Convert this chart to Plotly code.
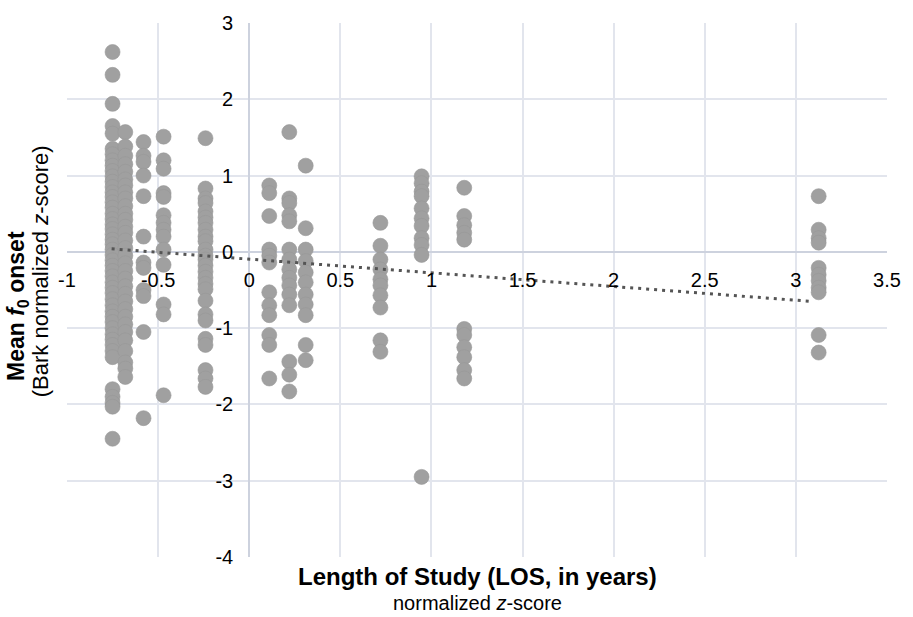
import plotly.graph_objects as go

# x positions (normalized LOS z-score) of each column of points
col_x = [-0.75, -0.68, -0.58, -0.47, -0.24, 0.11, 0.22, 0.31, 0.72, 0.946, 1.18, 3.125]

# mean f0 onset values for each column
col_a = [2.62, 2.32, 1.94, 1.65, 1.55, 1.35, 1.28, 1.2, 1.13, 1.06, 0.99, 0.92, 0.85, 0.78,
         0.72, 0.65, 0.58, 0.5, 0.43, 0.36, 0.3, 0.23, 0.16, 0.1, 0.03, -0.04, -0.11, -0.18,
         -0.25, -0.32, -0.4, -0.47, -0.54, -0.62, -0.7, -0.78, -0.85, -0.92, -1.0, -1.08,
         -1.15, -1.22, -1.3, -1.38, -1.8, -1.9, -1.98, -2.03, -2.45]
col_b = [1.57, 1.38, 1.26, 1.15, 1.05, 0.95, 0.87, 0.78, 0.7, 0.6, 0.5, 0.42, 0.33, 0.25,
         0.15, 0.05, -0.05, -0.15, -0.25, -0.35, -0.45, -0.55, -0.65, -0.75, -0.85, -0.95,
         -1.05, -1.16, -1.3, -1.45, -1.53, -1.64]
col_c = [1.44, 1.26, 1.18, 1.0, 0.73, 0.2, -0.14, -0.21, -0.5, -0.58, -1.05, -2.18]
col_d = [1.51, 1.2, 1.09, 0.77, 0.72, 0.48, 0.38, 0.29, 0.2, 0.03, -0.17, -0.69, -0.82, -1.88]
col_e = [1.49, 0.83, 0.7, 0.64, 0.53, 0.45, 0.38, 0.29, 0.2, 0.14, 0.03, -0.05, -0.1, -0.18,
         -0.26, -0.34, -0.42, -0.49, -0.64, -0.82, -0.9, -1.14, -1.22, -1.55, -1.66, -1.77]
col_f = [0.87, 0.77, 0.47, 0.03, -0.05, -0.14, -0.53, -0.7, -0.83, -1.09, -1.22, -1.66]
col_g = [1.57, 0.7, 0.64, 0.48, 0.4, 0.03, -0.1, -0.23, -0.34, -0.44, -0.56, -0.7, -1.44,
         -1.61, -1.83]
col_h = [1.13, 0.31, 0.03, -0.12, -0.27, -0.4, -0.56, -0.69, -0.83, -1.22, -1.42]
col_i = [0.38, 0.08, -0.1, -0.23, -0.36, -0.44, -0.57, -0.73, -1.16, -1.31]
col_j = [0.99, 0.9, 0.79, 0.73, 0.57, 0.44, 0.34, 0.18, 0.09, -0.04, -2.95]
col_k = [0.84, 0.47, 0.35, 0.25, 0.16, -1.01, -1.09, -1.25, -1.38, -1.55, -1.66]
col_l = [0.73, 0.29, 0.18, 0.12, -0.21, -0.3, -0.38, -0.47, -0.53, -1.09, -1.32]

col_values = [col_a, col_b, col_c, col_d, col_e, col_f, col_g, col_h, col_i, col_j, col_k, col_l]

# linear trend line endpoints
trend_x = [-0.755, 3.09]
trend_y = [0.04, -0.65]

x_ticks = [-1, -0.5, 0, 0.5, 1, 1.5, 2, 2.5, 3, 3.5]
y_ticks = [-4, -3, -2, -1, 0, 1, 2, 3]

xs, ys = [], []
for cx, vals in zip(col_x, col_values):
    xs.extend([cx] * len(vals))
    ys.extend(vals)

FONT = "Liberation Sans, Arial, Helvetica, sans-serif"

fig = go.Figure()
fig.add_trace(go.Scatter(
    x=xs, y=ys, mode="markers",
    marker=dict(size=15, color="#a0a0a0", line=dict(color="#979797", width=0.6)),
    showlegend=False, hoverinfo="skip",
))
fig.add_trace(go.Scatter(
    x=trend_x, y=trend_y, mode="lines",
    line=dict(color="#555555", width=3, dash="3px,5px"),
    showlegend=False, hoverinfo="skip",
))

grid = "#e2e5ed"
zero = "#cdd2de"

fig.update_layout(
    width=913, height=617,
    margin=dict(l=67, r=17, t=18, b=60),
    paper_bgcolor="white", plot_bgcolor="white",
    font=dict(family=FONT, color="black", size=20),
    xaxis=dict(
        range=[-1, 3.5], tickvals=x_ticks, ticktext=[f"{v:g}" for v in x_ticks],
        showgrid=True, gridcolor=grid, gridwidth=1.5,
        zeroline=True, zerolinecolor=zero, zerolinewidth=1.5,
        showline=False, ticks="", anchor="free", position=4 / 7,
        tickfont=dict(size=20, family=FONT, color="black"),
        ticklabelstandoff=14,
    ),
    yaxis=dict(
        range=[-4, 3], tickvals=y_ticks, ticktext=[f"{v:g}" for v in y_ticks],
        showgrid=True, gridcolor=grid, gridwidth=1.5,
        zeroline=True, zerolinecolor=zero, zerolinewidth=1.5,
        showline=False, ticks="", anchor="free", position=1 / 4.5,
        tickfont=dict(size=20, family=FONT, color="black"),
        ticklabelstandoff=16,
    ),
    annotations=[
        dict(text="<b>Length of Study (LOS, in years)</b>", x=0.5, y=-0.037,
             xref="paper", yref="paper", xanchor="center", yanchor="middle",
             showarrow=False, font=dict(size=24, family=FONT, color="black")),
        dict(text="normalized <i>z</i>-score", x=0.5, y=-0.086,
             xref="paper", yref="paper", xanchor="center", yanchor="middle",
             showarrow=False, font=dict(size=20, family=FONT, color="black")),
        dict(text="<b>Mean <i>f</i><sub>0</sub> onset</b>", x=-0.061, y=0.47,
             xref="paper", yref="paper", xanchor="center", yanchor="middle",
             textangle=-90, showarrow=False, font=dict(size=23, family=FONT, color="black")),
        dict(text="(Bark normalized <i>z</i>-score)", x=-0.033, y=0.535,
             xref="paper", yref="paper", xanchor="center", yanchor="middle",
             textangle=-90, showarrow=False, font=dict(size=22, family=FONT, color="black")),
    ],
)

fig.write_html("out.html")
